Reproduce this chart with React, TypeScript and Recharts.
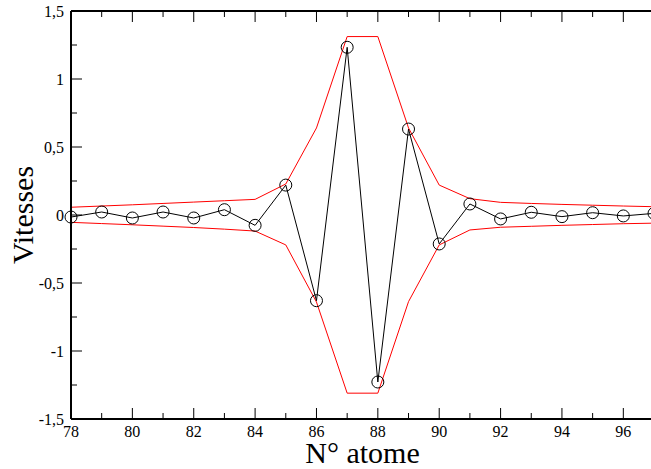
import React from 'react';
import { LineChart, Line, XAxis, YAxis, Label } from 'recharts';

const atoms = [78, 79, 80, 81, 82, 83, 84, 85, 86, 87, 88, 89, 90, 91, 92, 93, 94, 95, 96, 97];
const vitesses = [-0.015, 0.022, -0.022, 0.022, -0.022, 0.039, -0.076, 0.22, -0.63, 1.233, -1.228, 0.632, -0.213, 0.081, -0.029, 0.02, -0.012, 0.017, -0.007, 0.012];
const envUpper = [0.057, 0.066, 0.075, 0.085, 0.095, 0.105, 0.115, 0.228, 0.64, 1.312, 1.312, 0.64, 0.22, 0.12, 0.093, 0.085, 0.078, 0.072, 0.066, 0.061];
const envLower = [-0.054, -0.063, -0.072, -0.082, -0.092, -0.104, -0.118, -0.22, -0.64, -1.31, -1.31, -0.637, -0.22, -0.11, -0.09, -0.083, -0.076, -0.07, -0.064, -0.06];
const xTicks = [78, 79, 80, 81, 82, 83, 84, 85, 86, 87, 88, 89, 90, 91, 92, 93, 94, 95, 96, 97];
const yTicks = [-1.5, -1.25, -1, -0.75, -0.5, -0.25, 0, 0.25, 0.5, 0.75, 1, 1.25, 1.5];

const data = atoms.map((a, i) => ({ x: a, v: vitesses[i], up: envUpper[i], lo: envLower[i] }));

const FONT = '"Liberation Serif", "Times New Roman", serif';
const MAJOR = 11;
const MINOR = 6;

const fmt = (v: number) => String(v).replace('.', ',');
const isMajorY = (v: number) => Math.abs(v * 2 - Math.round(v * 2)) < 1e-9;

const textStyle = { fontFamily: FONT };

const BottomTick = (props: any) => {
  const { x, y, payload } = props;
  const v = payload.value;
  const major = v % 2 === 0;
  return (
    <g>
      <line x1={x} y1={y} x2={x} y2={y - (major ? MAJOR : MINOR)} stroke="#000" strokeWidth={1} />
      {major && (
        <text x={x} y={y + 17.5} textAnchor="middle" fontFamily={FONT} style={textStyle} fontSize={16} fill="#000">
          {v}
        </text>
      )}
    </g>
  );
};

const TopTick = (props: any) => {
  const { x, y, payload } = props;
  const v = payload.value;
  const major = v % 2 === 0;
  return <line x1={x} y1={y} x2={x} y2={y + (major ? MAJOR : MINOR)} stroke="#000" strokeWidth={1} />;
};

const LeftTick = (props: any) => {
  const { x, y, payload } = props;
  const v = payload.value;
  const major = isMajorY(v);
  return (
    <g>
      <line x1={x} y1={y} x2={x + (major ? MAJOR : MINOR)} y2={y} stroke="#000" strokeWidth={1} />
      {major && (
        <text x={x - 7} y={y + 5.5} textAnchor="end" fontFamily={FONT} style={textStyle} fontSize={16} fill="#000">
          {fmt(v)}
        </text>
      )}
    </g>
  );
};

const RightTick = (props: any) => {
  const { x, y, payload } = props;
  const major = isMajorY(payload.value);
  return <line x1={x} y1={y} x2={x - (major ? MAJOR : MINOR)} y2={y} stroke="#000" strokeWidth={1} />;
};

const YTitle = (props: any) => {
  const vb = props.viewBox;
  const cx = vb.x + 22;
  const cy = vb.y + vb.height / 2;
  return (
    <text x={cx} y={cy} transform={`rotate(-90 ${cx} ${cy})`} textAnchor="middle" fontFamily={FONT} style={textStyle} fontSize={30} fill="#000">
      Vitesses
    </text>
  );
};

const XTitle = (props: any) => {
  const vb = props.viewBox;
  return (
    <text x={vb.x + vb.width / 2} y={vb.y + 44} textAnchor="middle" fontFamily={FONT} style={textStyle} fontSize={30} fill="#000">
      N° atome
    </text>
  );
};

export default function App() {
  return (
    <div style={{ position: 'absolute', left: 0, top: 0, width: 651, height: 469, overflow: 'hidden', background: '#fff' }}>
      <LineChart width={664} height={469} data={data} margin={{ top: 10, right: 0, bottom: 0, left: 11 }}>
        <XAxis
          dataKey="x"
          type="number"
          domain={[78, 97]}
          ticks={xTicks}
          interval={0}
          height={50}
          tickSize={0}
          tickMargin={0}
          tickLine={false}
          tick={<BottomTick />}
          axisLine={{ stroke: '#000', strokeWidth: 2 }}
        >
          <Label content={<XTitle />} />
        </XAxis>
        <XAxis
          xAxisId="top"
          orientation="top"
          dataKey="x"
          type="number"
          domain={[78, 97]}
          ticks={xTicks}
          interval={0}
          height={1}
          tickSize={0}
          tickMargin={0}
          tickLine={false}
          tick={<TopTick />}
          axisLine={{ stroke: '#000', strokeWidth: 2 }}
        />
        <YAxis
          type="number"
          domain={[-1.5, 1.5]}
          ticks={yTicks}
          interval={0}
          width={60}
          tickSize={0}
          tickMargin={0}
          tickLine={false}
          tick={<LeftTick />}
          axisLine={{ stroke: '#000', strokeWidth: 2 }}
        >
          <Label content={<YTitle />} />
        </YAxis>
        <YAxis
          yAxisId="right"
          orientation="right"
          type="number"
          domain={[-1.5, 1.5]}
          ticks={yTicks}
          interval={0}
          width={10}
          tickSize={0}
          tickMargin={0}
          tickLine={false}
          tick={<RightTick />}
          axisLine={{ stroke: '#000', strokeWidth: 2 }}
        />
        <Line dataKey="up" stroke="#ff0000" strokeWidth={1} dot={false} isAnimationActive={false} />
        <Line dataKey="lo" stroke="#ff0000" strokeWidth={1} dot={false} isAnimationActive={false} />
        <Line
          dataKey="v"
          stroke="#000"
          strokeWidth={1}
          dot={{ r: 6, stroke: '#000', strokeWidth: 1, fill: 'none' }}
          isAnimationActive={false}
        />
      </LineChart>
    </div>
  );
}
